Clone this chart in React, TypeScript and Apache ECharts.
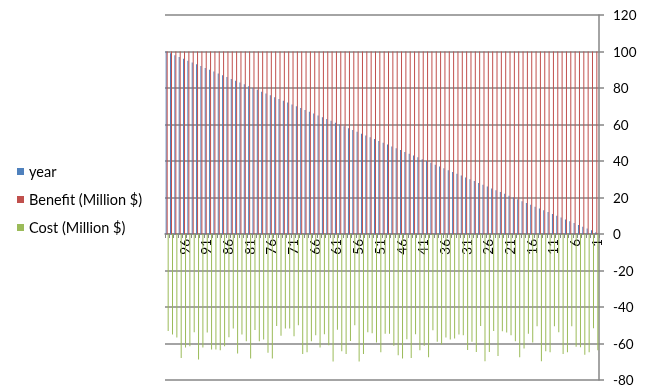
import React, { useEffect, useRef } from "react";
import * as echarts from "echarts";

const years = [
  "100","99","98","97","96","95","94","93","92","91",
  "90","89","88","87","86","85","84","83","82","81",
  "80","79","78","77","76","75","74","73","72","71",
  "70","69","68","67","66","65","64","63","62","61",
  "60","59","58","57","56","55","54","53","52","51",
  "50","49","48","47","46","45","44","43","42","41",
  "40","39","38","37","36","35","34","33","32","31",
  "30","29","28","27","26","25","24","23","22","21",
  "20","19","18","17","16","15","14","13","12","11",
  "10","9","8","7","6","5","4","3","2","1",
];

const yearValues = [
  100, 99, 98, 97, 96, 95, 94, 93, 92, 91,
  90, 89, 88, 87, 86, 85, 84, 83, 82, 81,
  80, 79, 78, 77, 76, 75, 74, 73, 72, 71,
  70, 69, 68, 67, 66, 65, 64, 63, 62, 61,
  60, 59, 58, 57, 56, 55, 54, 53, 52, 51,
  50, 49, 48, 47, 46, 45, 44, 43, 42, 41,
  40, 39, 38, 37, 36, 35, 34, 33, 32, 31,
  30, 29, 28, 27, 26, 25, 24, 23, 22, 21,
  20, 19, 18, 17, 16, 15, 14, 13, 12, 11,
  10, 9, 8, 7, 6, 5, 4, 3, 2, 1,
];

const benefit = [
  100, 100, 100, 100, 100, 100, 100, 100, 100, 100,
  100, 100, 100, 100, 100, 100, 100, 100, 100, 100,
  100, 100, 100, 100, 100, 100, 100, 100, 100, 100,
  100, 100, 100, 100, 100, 100, 100, 100, 100, 100,
  100, 100, 100, 100, 100, 100, 100, 100, 100, 100,
  100, 100, 100, 100, 100, 100, 100, 100, 100, 100,
  100, 100, 100, 100, 100, 100, 100, 100, 100, 100,
  100, 100, 100, 100, 100, 100, 100, 100, 100, 100,
  100, 100, 100, 100, 100, 100, 100, 100, 100, 100,
  100, 100, 100, 100, 100, 100, 100, 100, 100, 100,
];

const cost = [
  -53.1, -55.1, -56.7, -68.0, -62.2, -61.5, -53.8, -68.8, -62.2, -54.0,
  -63.3, -63.3, -63.7, -61.5, -56.6, -51.8, -65.5, -55.1, -58.7, -68.2,
  -52.6, -58.7, -57.8, -65.1, -68.2, -50.4, -55.8, -51.8, -51.8, -56.0,
  -50.0, -65.8, -64.8, -58.7, -55.5, -62.2, -54.9, -60.9, -69.8, -52.4,
  -64.2, -65.8, -58.6, -50.0, -69.8, -65.8, -53.8, -54.4, -59.5, -64.8,
  -54.7, -54.6, -61.3, -66.4, -68.2, -57.7, -68.0, -54.9, -63.7, -61.3,
  -67.5, -52.7, -59.1, -60.6, -56.7, -57.8, -57.3, -55.1, -55.5, -63.5,
  -59.1, -64.6, -50.4, -69.7, -64.6, -53.1, -66.9, -53.3, -54.0, -55.5,
  -58.7, -67.5, -62.8, -54.6, -59.5, -50.6, -69.7, -64.2, -64.8, -50.6,
  -53.8, -65.7, -64.8, -50.6, -61.8, -62.0, -66.2, -64.8, -51.6, -63.7,
];

const seriesNames = ["year", "Benefit (Million $)", "Cost (Million $)"];
const colors = ["#4F81BD", "#C0504D", "#9BBB59"];

const FONT = "Lato, 'Open Sans', sans-serif";

export default function App() {
  const ref = useRef<HTMLDivElement>(null);

  useEffect(() => {
    if (!ref.current) return;
    const chart = echarts.init(ref.current, undefined, { renderer: "svg" });
    chart.setOption({
      animation: false,
      color: colors,
      textStyle: { fontFamily: FONT },
      legend: {
        orient: "vertical",
        left: 17,
        top: 164,
        padding: 0,
        itemWidth: 7,
        itemHeight: 7,
        itemGap: 13,
        icon: "rect",
        data: seriesNames,
        textStyle: { fontFamily: FONT, fontSize: 14.5, color: "#000", lineHeight: 14, padding: [0, 0, 0, 0] },
        itemStyle: { borderWidth: 0 },
      },
      grid: { left: 165, right: 48, top: 15, bottom: 7, containLabel: false },
      xAxis: {
        type: "category",
        data: years,
        position: "bottom",
        offset: -146,
        axisLine: { onZero: false, lineStyle: { color: "#868686", width: 1.5 } },
        axisTick: { show: true, interval: 0, length: 4, lineStyle: { color: "#868686", width: 1 } },
        axisLabel: {
          interval: (index: number) => index % 5 === 4,
          rotate: 90,
          margin: 5,
          fontSize: 13.5,
          color: "#000",
          fontFamily: FONT,
        },
        splitLine: { show: false },
      },
      yAxis: {
        type: "value",
        position: "right",
        min: -80,
        max: 120,
        interval: 20,
        axisLine: { show: true, lineStyle: { color: "#868686", width: 1.5 } },
        axisTick: { show: true, length: 5, lineStyle: { color: "#868686", width: 1.5 } },
        axisLabel: { margin: 14, fontSize: 13.5, color: "#000", fontFamily: FONT },
        splitLine: { show: true, lineStyle: { color: "#868686", width: 1.5 } },
      },
      series: [
        { name: seriesNames[0], type: "bar", data: yearValues, barCategoryGap: "35%", barGap: "0%", itemStyle: { color: colors[0] } },
        { name: seriesNames[1], type: "bar", data: benefit, barCategoryGap: "35%", barGap: "0%", itemStyle: { color: colors[1] } },
        { name: seriesNames[2], type: "bar", data: cost, barCategoryGap: "35%", barGap: "0%", itemStyle: { color: colors[2] } },
      ],
    });
    return () => chart.dispose();
  }, []);

  return <div ref={ref} style={{ position: "fixed", left: 0, top: 0, width: 647, height: 387 }} />;
}
